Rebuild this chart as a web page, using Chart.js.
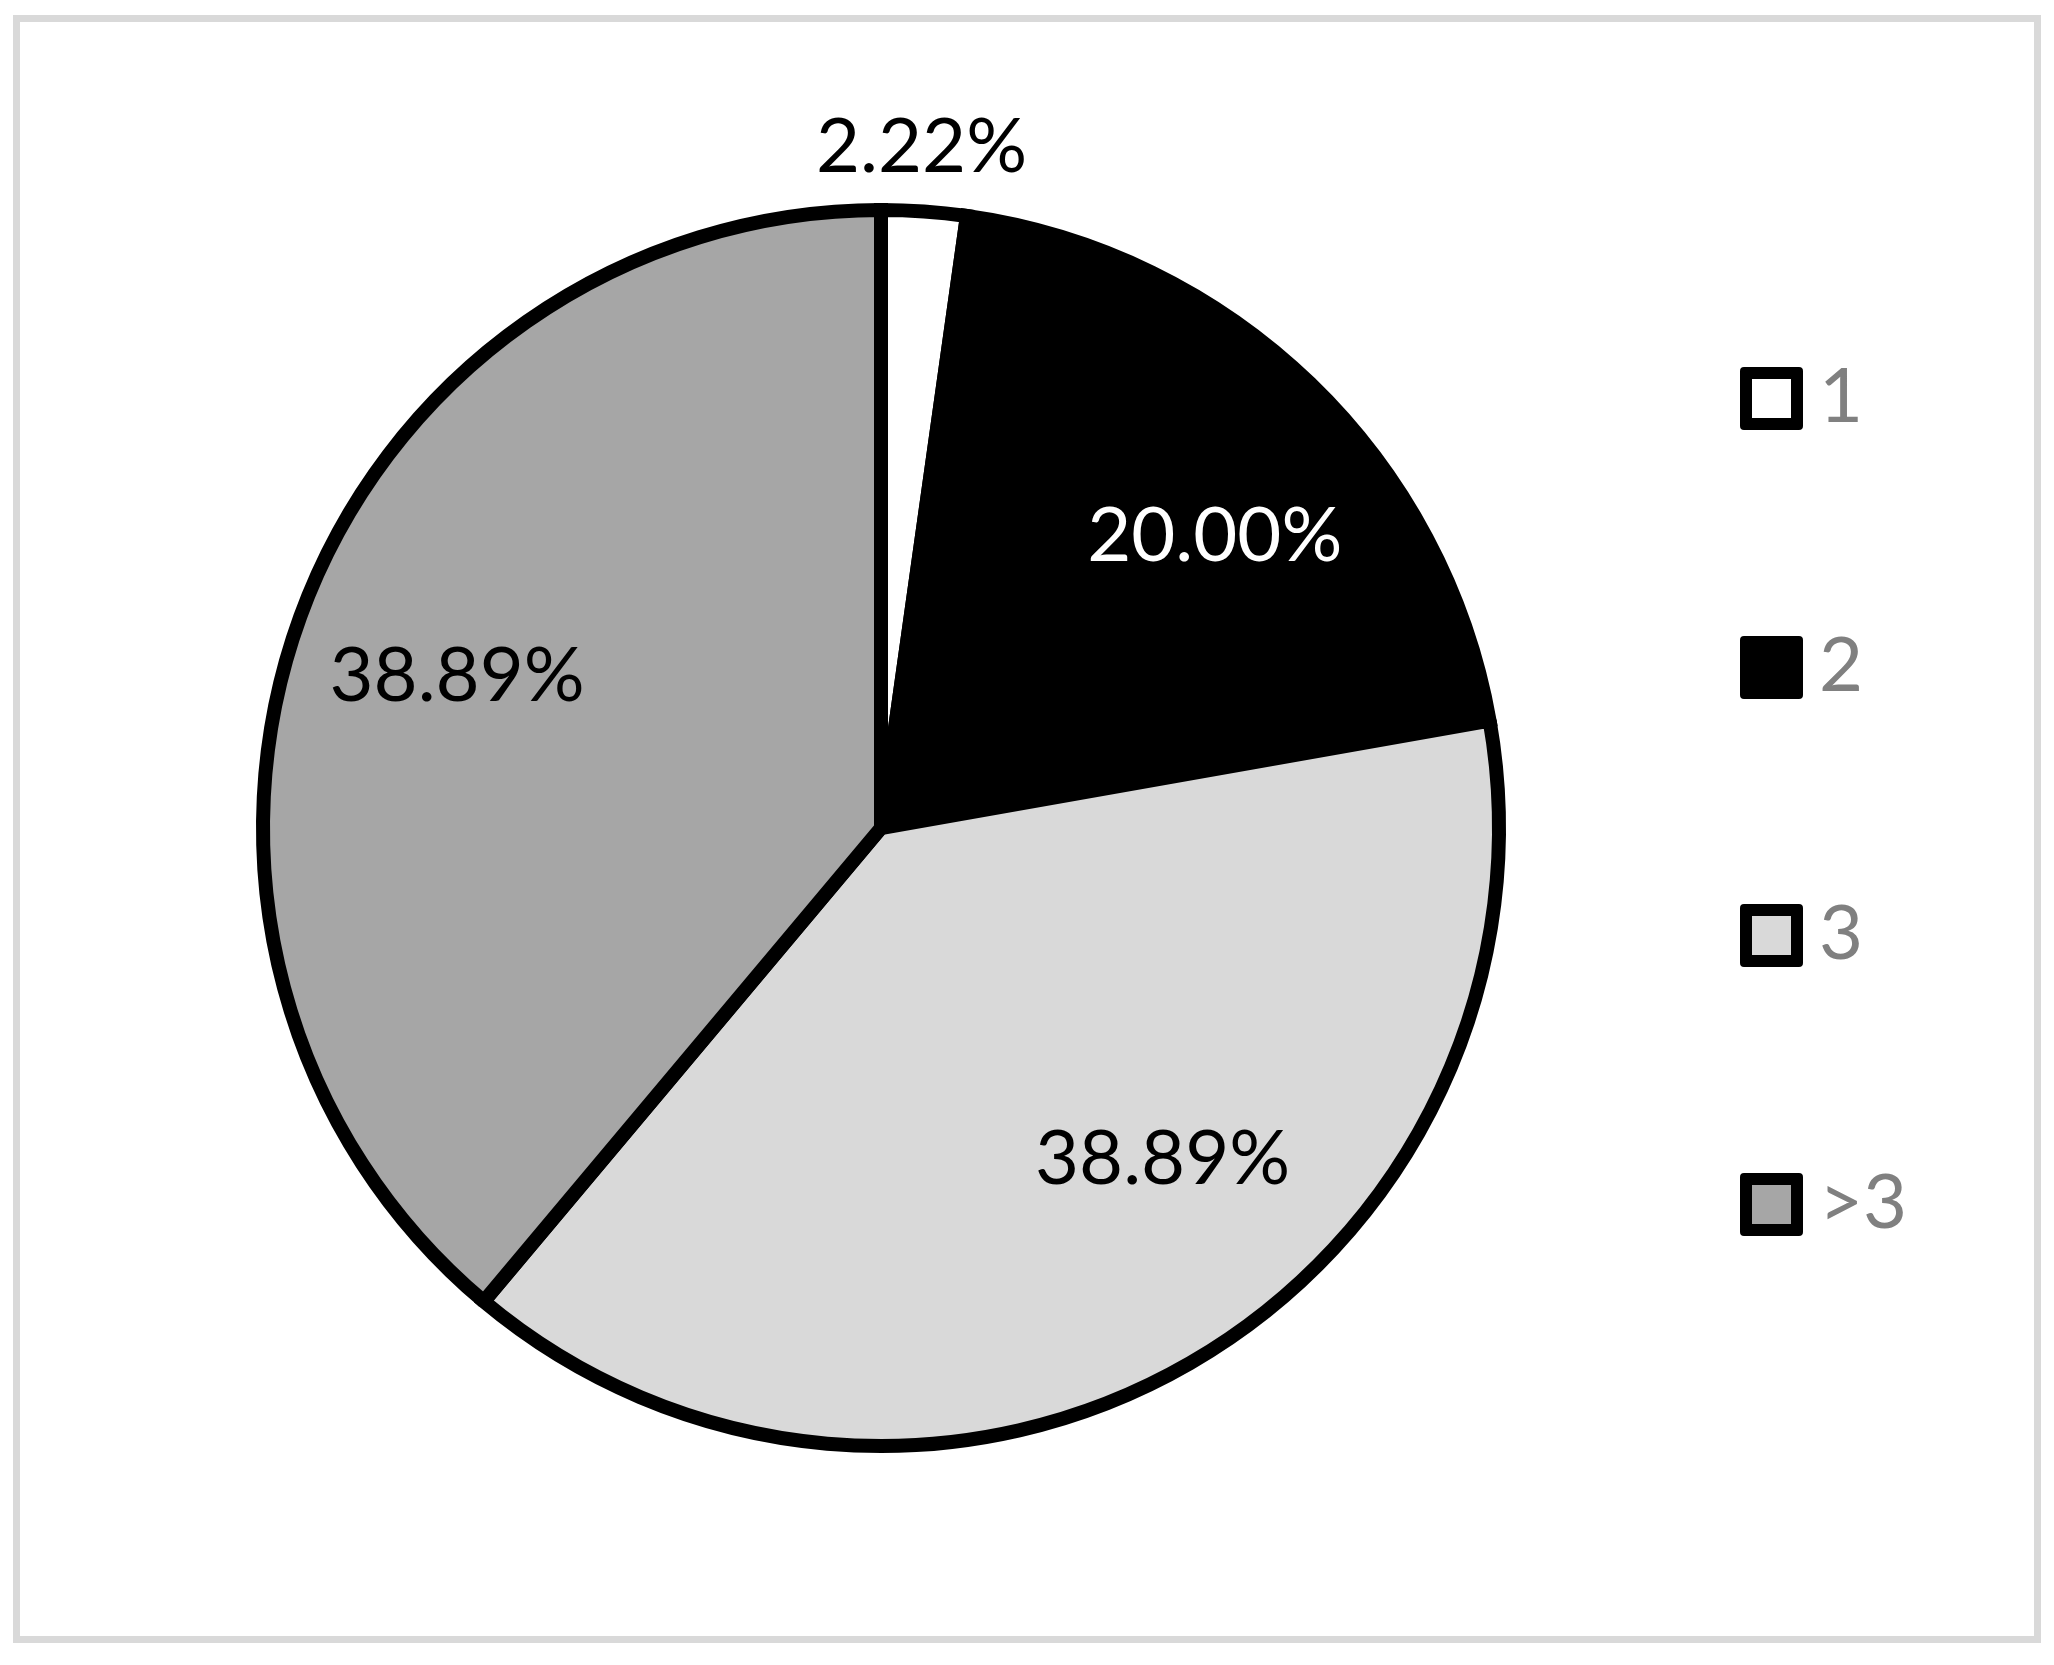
<!DOCTYPE html>
<html>
<head>
<meta charset="utf-8">
<title>Pie chart</title>
<script src="https://cdn.jsdelivr.net/npm/chart.js@4.4.0/dist/chart.umd.min.js"></script>
<style>
    html, body { margin: 0; padding: 0; background: #fff; }
    #wrap { position: relative; width: 2054px; height: 1665px; overflow: hidden; background: #fff; }
    #frame {
        position: absolute; left: 13px; top: 15px; width: 2028px; height: 1628px;
        box-sizing: border-box; border: 7px solid #d9d9d9;
    }
    #chart { position: absolute; left: 0; top: 0; }
    #legend { position: absolute; left: 1740px; top: 0; font-family: Lato, sans-serif; font-size: 76px; color: #808080; }
    .item { position: absolute; left: 0; height: 63px; display: flex; align-items: center; white-space: nowrap; }
    .box { width: 63px; height: 63px; box-sizing: border-box; border: 12.5px solid #000; border-radius: 4px; }
    .txt { margin-left: 16px; line-height: 63px; position: relative; top: -6px; }
</style>
</head>
<body>
<div id="wrap">
    <div id="frame"></div>
    <canvas id="chart" width="2054" height="1665"></canvas>
    <div id="legend"></div>
</div>
<script>
// Data
const categories = ['1', '2', '3', '>3'];
const shares = [2.22, 20.00, 38.89, 38.89];
const sliceColors = ['#FFFFFF', '#000000', '#D9D9D9', '#A6A6A6'];
const labelColors = ['#000000', '#FFFFFF', '#000000', '#000000'];

// label placement: angle shift (deg) from slice middle, distance as share of radius
const labelPlace = [
    { shift: -0.6, dist: 1.107 },
    { shift: 4.6, dist: 0.72 },
    { shift: -10.6, dist: 0.70 },
    { shift: 0, dist: 0.73 }
];

const FONT = 'Lato, sans-serif';
const LABEL_SIZE = 76;

// Percent labels on slices
const sliceLabels = {
    id: 'sliceLabels',
    afterDatasetsDraw(chart) {
        const ctx = chart.ctx;
        const meta = chart.getDatasetMeta(0);
        ctx.save();
        ctx.font = `${LABEL_SIZE}px ${FONT}`;
        ctx.textAlign = 'center';
        ctx.textBaseline = 'alphabetic';
        meta.data.forEach((arc, i) => {
            const p = arc.getProps(['x', 'y', 'startAngle', 'endAngle', 'outerRadius'], true);
            const mid = (p.startAngle + p.endAngle) / 2 + labelPlace[i].shift * Math.PI / 180;
            const r = p.outerRadius * labelPlace[i].dist;
            const x = p.x + Math.cos(mid) * r;
            const y = p.y + Math.sin(mid) * r;
            ctx.fillStyle = labelColors[i];
            ctx.fillText(shares[i].toFixed(2) + '%', x, y + LABEL_SIZE * 0.36);
        });
        ctx.restore();
    }
};

const canvasBg = {
    id: 'canvasBg',
    beforeDraw(chart) {
        const ctx = chart.ctx;
        ctx.save();
        ctx.fillStyle = 'rgba(0,0,0,0)';
        ctx.restore();
    }
};

new Chart(document.getElementById('chart').getContext('2d'), {
    type: 'pie',
    data: {
        labels: categories,
        datasets: [{
            data: shares,
            backgroundColor: sliceColors,
            borderColor: '#000000',
            borderWidth: 14,
            borderJoinStyle: 'miter'
        }]
    },
    options: {
        responsive: false,
        animation: false,
        radius: 618,
        layout: { padding: { left: 0, top: 0, right: 292, bottom: 9 } },
        plugins: {
            legend: { display: false },
            tooltip: { enabled: false }
        }
    },
    plugins: [sliceLabels, canvasBg]
});

// Legend
const legend = document.getElementById('legend');
const legendTop = 398.5;
const legendStep = 268.5;
categories.forEach((name, i) => {
    const item = document.createElement('div');
    item.className = 'item';
    item.style.top = (legendTop + i * legendStep - 31.5) + 'px';
    const box = document.createElement('div');
    box.className = 'box';
    box.style.background = sliceColors[i];
    const txt = document.createElement('span');
    txt.className = 'txt';
    txt.textContent = name;
    item.appendChild(box);
    item.appendChild(txt);
    legend.appendChild(item);
});
</script>
</body>
</html>
